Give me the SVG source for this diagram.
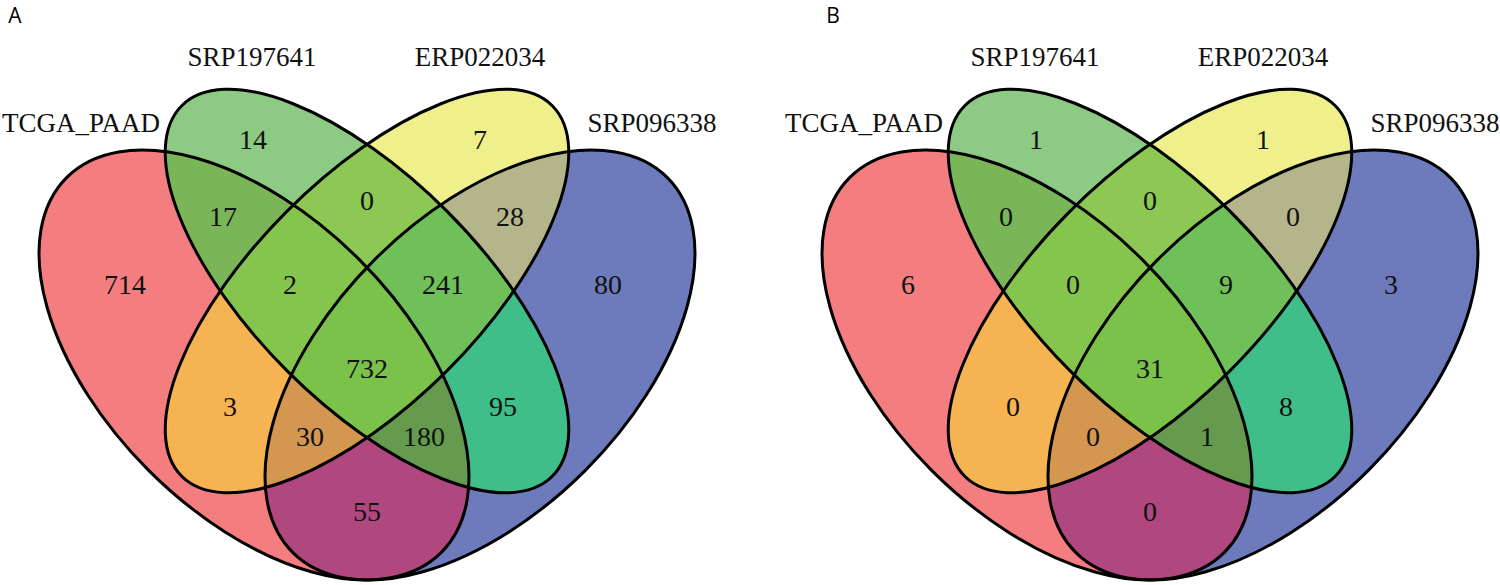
<svg xmlns="http://www.w3.org/2000/svg" xmlns:xlink="http://www.w3.org/1999/xlink" width="1500" height="585" viewBox="0 0 1500 585">
<style>
.num{font-family:"Liberation Serif","Times New Roman",serif;font-size:28px;fill:#111;text-anchor:middle}
.lab{font-family:"Liberation Serif","Times New Roman",serif;font-size:27px;fill:#111;text-anchor:middle}
.pan{font-family:"Open Sans","DejaVu Sans",sans-serif;font-size:21px;fill:#000;text-anchor:middle}
.edge{fill:none;stroke:#000;stroke-width:3}
</style>
<defs>
<ellipse id="eR" cx="254" cy="365" rx="265" ry="149" transform="rotate(45 254 365)"/>
<ellipse id="eB" cx="480" cy="365" rx="265" ry="149" transform="rotate(-45 480 365)"/>
<ellipse id="eG" cx="367" cy="291" rx="262" ry="113" transform="rotate(45 367 291)"/>
<ellipse id="eY" cx="367" cy="291" rx="262" ry="113" transform="rotate(-45 367 291)"/>
<clipPath id="cR"><use xlink:href="#eR"/></clipPath>
<clipPath id="cB"><use xlink:href="#eB"/></clipPath>
<clipPath id="cG"><use xlink:href="#eG"/></clipPath>
<clipPath id="cY"><use xlink:href="#eY"/></clipPath>
<g id="vennFill">
<use xlink:href="#eR" fill="#F47D80"/>
<use xlink:href="#eB" fill="#6D7BBC"/>
<use xlink:href="#eG" fill="#8DCA84"/>
<use xlink:href="#eY" fill="#EFEF8C"/>
<g clip-path="url(#cR)"><rect x="0" y="0" width="750" height="585" fill="#7AB658" clip-path="url(#cG)"/></g>
<g clip-path="url(#cR)"><rect x="0" y="0" width="750" height="585" fill="#F6B352" clip-path="url(#cY)"/></g>
<g clip-path="url(#cR)"><rect x="0" y="0" width="750" height="585" fill="#B0477F" clip-path="url(#cB)"/></g>
<g clip-path="url(#cG)"><rect x="0" y="0" width="750" height="585" fill="#8DC855" clip-path="url(#cY)"/></g>
<g clip-path="url(#cG)"><rect x="0" y="0" width="750" height="585" fill="#40BE8A" clip-path="url(#cB)"/></g>
<g clip-path="url(#cY)"><rect x="0" y="0" width="750" height="585" fill="#B4B58A" clip-path="url(#cB)"/></g>
<g clip-path="url(#cR)"><g clip-path="url(#cG)"><rect x="0" y="0" width="750" height="585" fill="#85C54E" clip-path="url(#cY)"/></g></g>
<g clip-path="url(#cR)"><g clip-path="url(#cG)"><rect x="0" y="0" width="750" height="585" fill="#659A4F" clip-path="url(#cB)"/></g></g>
<g clip-path="url(#cR)"><g clip-path="url(#cY)"><rect x="0" y="0" width="750" height="585" fill="#D49750" clip-path="url(#cB)"/></g></g>
<g clip-path="url(#cG)"><g clip-path="url(#cY)"><rect x="0" y="0" width="750" height="585" fill="#70C05A" clip-path="url(#cB)"/></g></g>
<g clip-path="url(#cR)"><g clip-path="url(#cG)"><g clip-path="url(#cY)"><rect x="0" y="0" width="750" height="585" fill="#7AC24A" clip-path="url(#cB)"/></g></g></g>
<use xlink:href="#eR" class="edge"/>
<use xlink:href="#eB" class="edge"/>
<use xlink:href="#eG" class="edge"/>
<use xlink:href="#eY" class="edge"/>
</g>
</defs>

<g id="panelA">
<use id="vennA" xlink:href="#vennFill"/>
<text class="pan" x="15" y="23">A</text>
<g id="setLabelsA">
<text class="lab" x="81" y="132">TCGA_PAAD</text>
<text class="lab" x="252" y="66">SRP197641</text>
<text class="lab" x="480" y="66">ERP022034</text>
<text class="lab" x="652" y="132">SRP096338</text>
</g>
<g id="countsA">
<text class="num" x="253" y="149">14</text>
<text class="num" x="480" y="149">7</text>
<text class="num" x="223" y="226">17</text>
<text class="num" x="367" y="210">0</text>
<text class="num" x="510" y="226">28</text>
<text class="num" x="125" y="294">714</text>
<text class="num" x="290" y="294">2</text>
<text class="num" x="443" y="294">241</text>
<text class="num" x="608" y="294">80</text>
<text class="num" x="367" y="378">732</text>
<text class="num" x="230" y="416">3</text>
<text class="num" x="503" y="416">95</text>
<text class="num" x="310" y="446">30</text>
<text class="num" x="424" y="446">180</text>
<text class="num" x="367" y="521">55</text>
</g>
</g>

<g id="panelB" transform="translate(783 0)">
<use id="vennB" xlink:href="#vennFill"/>
<text class="pan" x="50" y="23">B</text>
<g id="setLabelsB">
<text class="lab" x="81" y="132">TCGA_PAAD</text>
<text class="lab" x="252" y="66">SRP197641</text>
<text class="lab" x="480" y="66">ERP022034</text>
<text class="lab" x="652" y="132">SRP096338</text>
</g>
<g id="countsB">
<text class="num" x="253" y="149">1</text>
<text class="num" x="480" y="149">1</text>
<text class="num" x="223" y="226">0</text>
<text class="num" x="367" y="210">0</text>
<text class="num" x="510" y="226">0</text>
<text class="num" x="125" y="294">6</text>
<text class="num" x="290" y="294">0</text>
<text class="num" x="443" y="294">9</text>
<text class="num" x="608" y="294">3</text>
<text class="num" x="367" y="378">31</text>
<text class="num" x="230" y="416">0</text>
<text class="num" x="503" y="416">8</text>
<text class="num" x="310" y="446">0</text>
<text class="num" x="424" y="446">1</text>
<text class="num" x="367" y="521">0</text>
</g>
</g>
</svg>
